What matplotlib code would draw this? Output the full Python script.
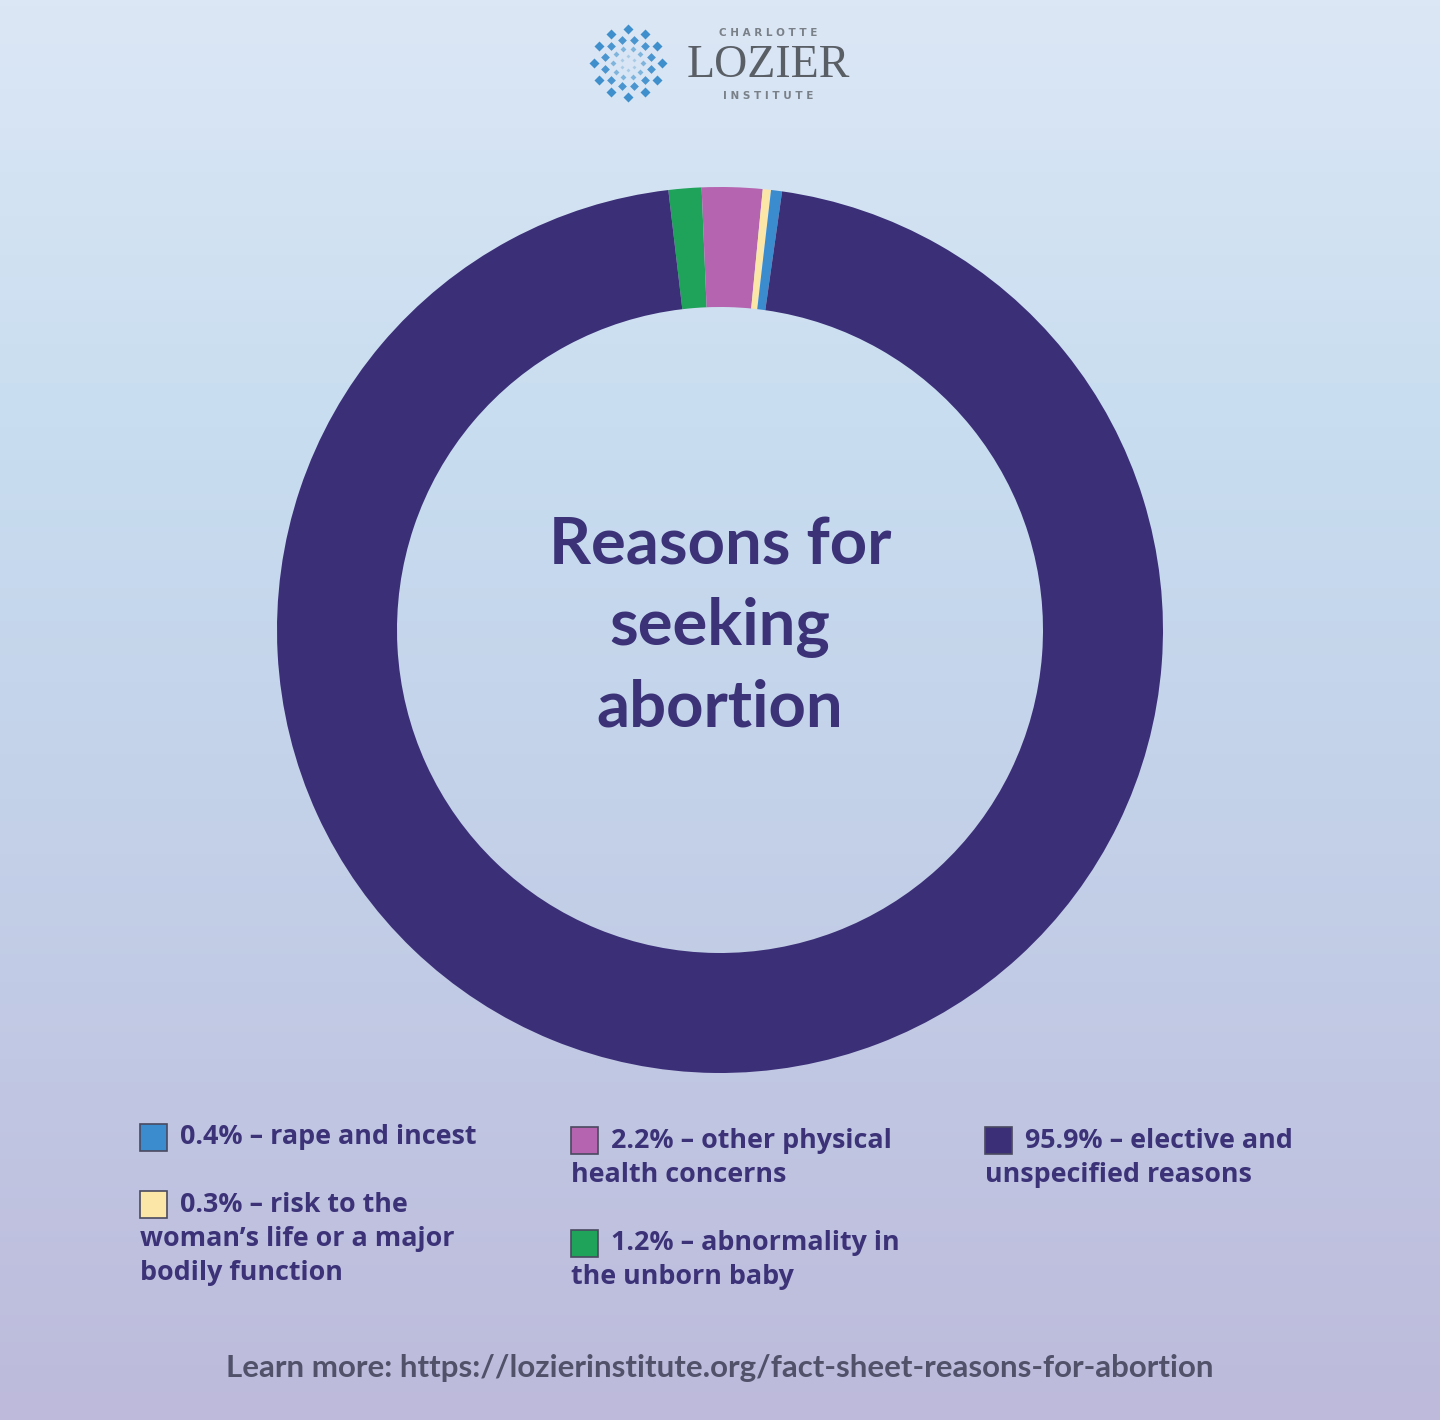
import numpy as np
import matplotlib
matplotlib.use("Agg")
import matplotlib.pyplot as plt
from matplotlib.colors import LinearSegmentedColormap
from matplotlib.patches import Rectangle

# slice data, drawn clockwise starting just left of the top
reasons = ["abnormality in the unborn baby", "other physical health concerns",
           "risk to the woman's life or a major bodily function",
           "rape and incest", "elective and unspecified reasons"]
shares = [1.2, 2.2, 0.3, 0.4, 95.9]
colors = ["#1fa25a", "#b565b0", "#fbe6a8", "#3a8ccf", "#3b2f78"]

legend_lines = [
    ["0.4% \u2013 rape and incest"],
    ["0.3% \u2013 risk to the", "woman\u2019s life or a major", "bodily function"],
    ["2.2% \u2013 other physical", "health concerns"],
    ["1.2% \u2013 abnormality in", "the unborn baby"],
    ["95.9% \u2013 elective and", "unspecified reasons"],
]
legend_colors = ["#3a8ccf", "#fbe6a8", "#b565b0", "#1fa25a", "#3b2f78"]

W, H = 1440, 1420
fig = plt.figure(figsize=(W / 100, H / 100), dpi=100)

# background gradient
bg = fig.add_axes([0, 0, 1, 1])
grad = LinearSegmentedColormap.from_list(
    "bg", [(0, "#dce7f5"), (0.3, "#c8ddf0"), (0.6, "#c3d0e8"), (1, "#bdbadb")])
bg.imshow(np.linspace(0, 1, 256).reshape(-1, 1), cmap=grad, aspect="auto",
          extent=[0, W, H, 0])
bg.set_xlim(0, W)
bg.set_ylim(H, 0)
bg.axis("off")

ax = fig.add_axes([0, 0, 1, 1])
ax.set_xlim(0, W)
ax.set_ylim(0, H)
ax.set_aspect("equal")
ax.axis("off")

def Y(y):
    return H - y

ax.pie(shares, colors=colors, startangle=96.7, counterclock=False,
       center=(720, Y(630)), radius=443, frame=True,
       wedgeprops=dict(width=120, linewidth=0))
ax.set_xlim(0, W)
ax.set_ylim(0, H)
ax.axis("off")

txt = "#3b3278"
font = "Lato"
ax.text(720, Y(627), "Reasons for\nseeking\nabortion", ha="center", va="center",
        fontsize=47, fontweight="bold", color=txt, family=font, linespacing=1.43)

# legend
sq = 27
boxes = [(140, 1124), (140, 1191), (571, 1127), (571, 1230), (985, 1127)]
for (bx, by), lines, c in zip(boxes, legend_lines, legend_colors):
    ax.add_patch(Rectangle((bx, Y(by + sq)), sq, sq, facecolor=c,
                           edgecolor="#4a4a60", linewidth=1.2))
    cy = by + sq / 2
    for i, line in enumerate(lines):
        x = bx + sq + 13 if i == 0 else bx
        ax.text(x, Y(cy + i * 34), line, ha="left", va="center", fontsize=19.4,
                fontweight="bold", color=txt, family="Open Sans")

ax.text(720, Y(1368), "Learn more: https://lozierinstitute.org/fact-sheet-reasons-for-abortion",
        ha="center", va="center", fontsize=22.5, fontweight="bold", color="#51526a",
        family=font)

# logo
lx, ly = 628, 63
for r, n, s, off, c in [(34, 12, 26, 0, "#3f8fcc"), (24, 12, 20, 15, "#4a95cf"),
                        (15, 10, 9, 0, "#7fb4dc"), (7, 6, 4, 30, "#a9cbe6")]:
    a = np.deg2rad(np.arange(n) * 360 / n + off)
    ax.scatter(lx + r * np.cos(a), Y(ly) + r * np.sin(a), s=s, marker="D",
               color=c, linewidths=0)
ax.text(768, Y(33), "C H A R L O T T E", ha="center", va="center", fontsize=7.5,
        fontweight="bold", color="#7a8088", family="DejaVu Sans")
ax.text(768, Y(66), "LOZIER", ha="center", va="center", fontsize=33,
        color="#5a5f66", family="Liberation Serif")
ax.text(768, Y(96), "I N S T I T U T E", ha="center", va="center", fontsize=7.5,
        fontweight="bold", color="#7a8088", family="DejaVu Sans")

fig.savefig("out.png", dpi=100)
